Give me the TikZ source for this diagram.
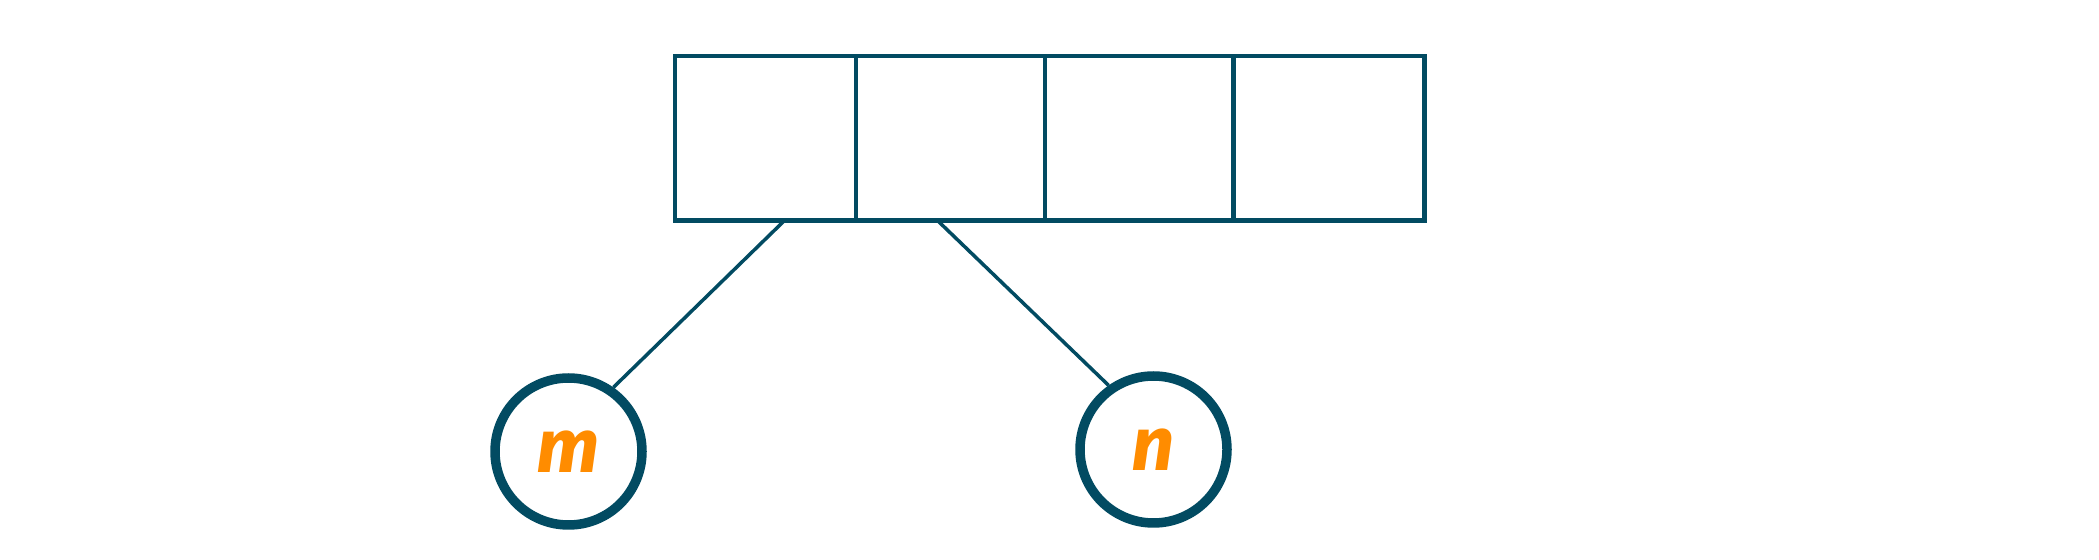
\documentclass[tikz,border=0pt]{standalone}
\usepackage{tikz}
\usepackage{fontspec}
\newfontfamily\handfont{Fira Sans}
\definecolor{teal}{RGB}{2,75,98}
\definecolor{orng}{RGB}{255,140,0}
\tikzset{
  cell/.style={draw=teal, line width=2.25pt, rectangle, inner sep=0pt, minimum height=82.25pt},
  ptr/.style={draw=teal, line width=1.75pt},
  var/.style={draw=teal, line width=4.75pt, circle, inner sep=0pt, minimum size=73.5pt, fill=white,
    text=orng, font=\handfont\fontsize{38}{38}\selectfont\bfseries\itshape}
}
\begin{document}
\begin{tikzpicture}[x=0.5pt,y=-0.5pt]
\useasboundingbox (0,0) rectangle (2099,560);
\node[cell, minimum width=90.5pt]  (c1) at (765.5,138.25) {};
\node[cell, minimum width=94.5pt]  (c2) at (950.5,138.25) {};
\node[cell, minimum width=94.25pt] (c3) at (1139.25,138.25) {};
\node[cell, minimum width=95.5pt]  (c4) at (1329,138.25) {};
\node[var] (m) at (568.5,451.5) {m};
\node[var] (n) at (1153.5,449.5) {n};
\coordinate (pl) at (784.5,220.5);
\coordinate (pr) at (937.5,220.5);
\draw[ptr] (pl) -- (m.55);
\draw[ptr] (pr) -- (n.125);
\end{tikzpicture}
\end{document}
